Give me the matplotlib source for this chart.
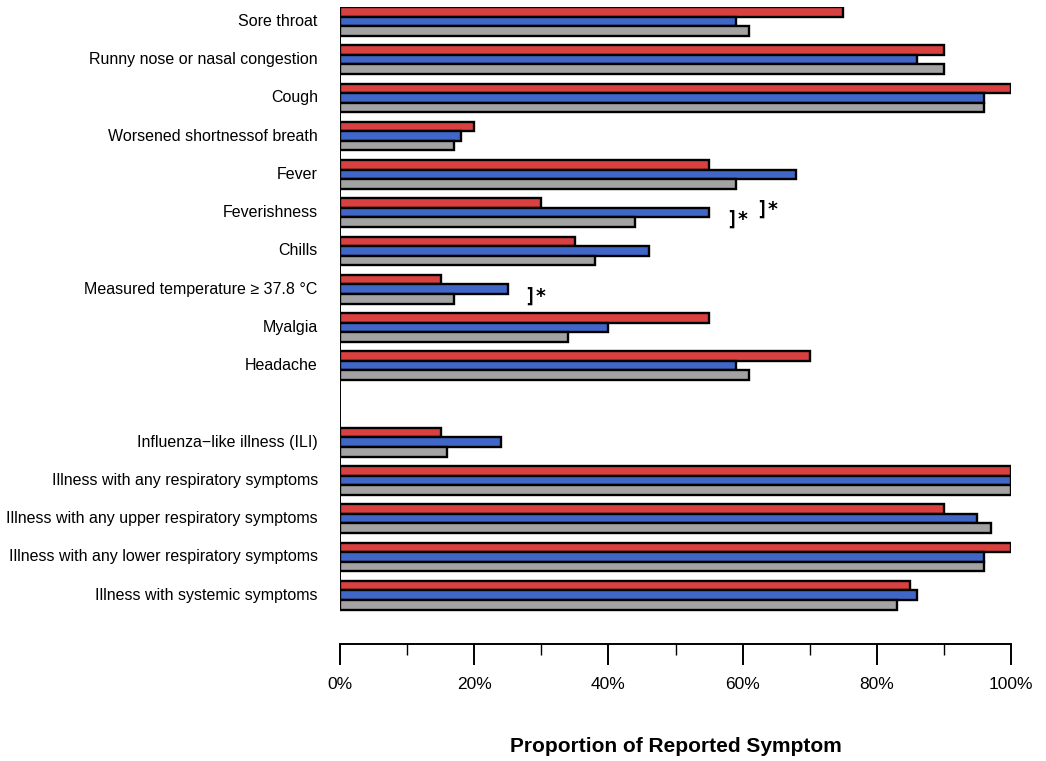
import matplotlib
matplotlib.use("Agg")
import matplotlib.pyplot as plt
import numpy as np

plt.rcParams['font.family'] = ['Liberation Sans', 'DejaVu Sans']

# groups top to bottom, None = empty slot
symptoms = ["Sore throat", "Runny nose or nasal congestion", "Cough",
            "Worsened shortnessof breath", "Fever", "Feverishness", "Chills",
            "Measured temperature \u2265 37.8 \u00b0C", "Myalgia", "Headache",
            None,
            "Influenza\u2212like illness (ILI)",
            "Illness with any respiratory symptoms",
            "Illness with any upper respiratory symptoms",
            "Illness with any lower respiratory symptoms",
            "Illness with systemic symptoms"]

red_vals = [75, 90, 100, 20, 55, 30, 35, 15, 55, 70, None, 15, 100, 90, 100, 85]
blue_vals = [59, 86, 96, 18, 68, 55, 46, 25, 40, 59, None, 24, 100, 95, 96, 86]
gray_vals = [61, 90, 96, 17, 59, 44, 38, 17, 34, 61, None, 16, 100, 97, 96, 83]

series = [red_vals, blue_vals, gray_vals]
colors = ["#d94141", "#4066c8", "#a3a3a3"]

# significance marks: (x %, group index, offset in bars)
marks = [(57.5, 5, 1.7), (62.0, 5, 0.6), (27.5, 7, 1.7)]

fig = plt.figure(figsize=(10.46, 7.61), dpi=100)
ax = fig.add_axes([340 / 1046, 1 - 644 / 761, 671 / 1046, (644 - 7) / 761])

for j, vals in enumerate(series):
    for i, v in enumerate(vals):
        if v is None:
            continue
        y = -(i * 4 + j)
        ax.barh(y, v, height=1.0, color=colors[j], edgecolor="black",
                linewidth=1.7, align="center")

for i, name in enumerate(symptoms):
    if name is None:
        continue
    ax.text(-3.3, -(i * 4 + 1), name, ha="right", va="center", fontsize=11.5)

for x, i, off in marks:
    ax.text(x, -(i * 4 + off), "]*", ha="left", va="center", fontsize=13.5,
            family="DejaVu Sans Mono", fontweight="bold")

n_slots = len(symptoms)
ax.plot([0, 0], [0.5, -(n_slots * 4 - 2) - 0.5], color="black", lw=1.4,
        solid_capstyle="butt")

ax.set_xlim(0, 100)
ax.set_ylim(-(n_slots * 4 - 2) - 0.5 - 3.6, 0.5)
for s in ["top", "right", "left"]:
    ax.spines[s].set_visible(False)
ax.spines["bottom"].set_linewidth(1.4)
ax.set_yticks([])
ax.set_xticks(np.arange(0, 101, 20))
ax.set_xticklabels([f"{t}%" for t in range(0, 101, 20)], fontsize=12.5)
ax.set_xticks(np.arange(10, 100, 20), minor=True)
ax.tick_params(axis="x", which="major", length=15, width=1.4, pad=9)
ax.tick_params(axis="x", which="minor", length=8, width=1.0)
ax.set_xlabel("Proportion of Reported Symptom", fontsize=15, fontweight="bold",
              labelpad=32)

fig.savefig("out.png", dpi=100)
